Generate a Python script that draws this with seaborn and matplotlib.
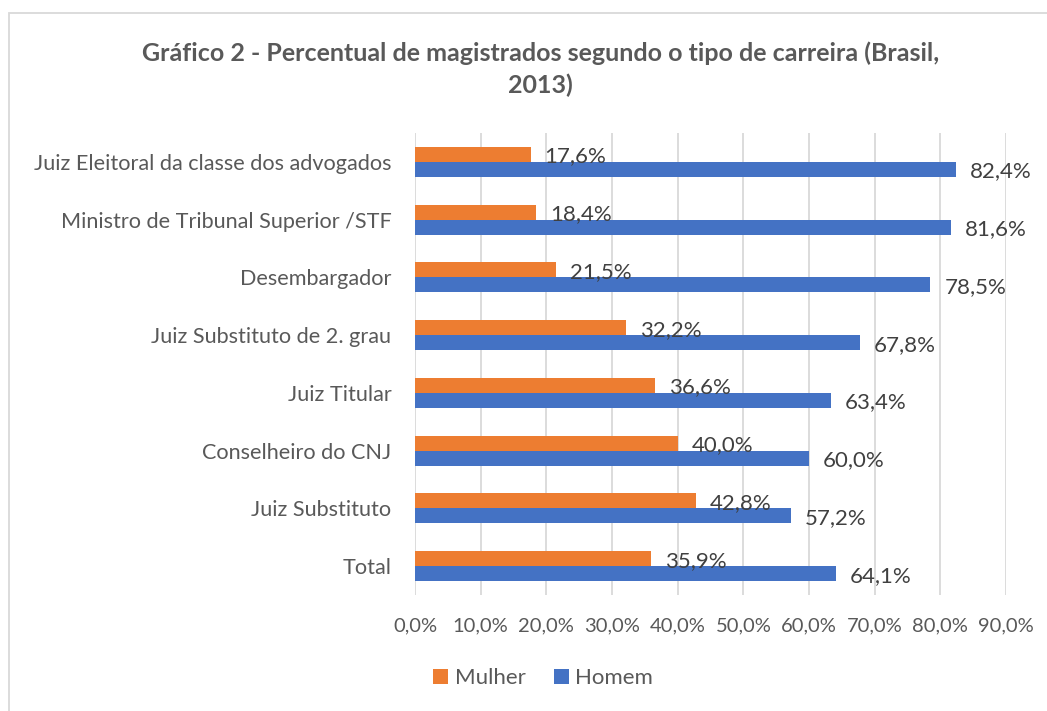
import matplotlib
matplotlib.use("Agg")
import matplotlib.pyplot as plt
import seaborn as sns
import pandas as pd
from matplotlib.patches import Rectangle, Patch

categories = [
    "Juiz Eleitoral da classe dos advogados",
    "Ministro de Tribunal Superior /STF",
    "Desembargador",
    "Juiz Substituto de 2. grau",
    "Juiz Titular",
    "Conselheiro do CNJ",
    "Juiz Substituto",
    "Total",
]
mulher = [17.6, 18.4, 21.5, 32.2, 36.6, 40.0, 42.8, 35.9]
homem = [82.4, 81.6, 78.5, 67.8, 63.4, 60.0, 57.2, 64.1]
series = ["Mulher", "Homem"]
xticks = [0, 10, 20, 30, 40, 50, 60, 70, 80, 90]
title = "Gráfico 2 - Percentual de magistrados segundo o tipo de carreira (Brasil,\n2013)"

colors = {"Mulher": "#ED7D31", "Homem": "#4472C4"}

df = pd.DataFrame({
    "cat": categories * 2,
    "serie": ["Mulher"] * len(categories) + ["Homem"] * len(categories),
    "valor": mulher + homem,
})

sns.set_theme(style="white")
plt.rcParams["font.family"] = ["Lato", "DejaVu Sans"]

W, H = 1047, 711
fig = plt.figure(figsize=(W / 100, H / 100), dpi=100)
fig.patch.set_facecolor("white")

# chart-area border
fig.patches.append(Rectangle((9 / W, -0.1), 1.2, 1.1 - 13 / H, transform=fig.transFigure,
                             fill=False, edgecolor="#d9d9d9", linewidth=1.3, zorder=0))

ax = fig.add_axes([415 / W, 1 - 595 / H, (1006 - 415) / W, (595 - 133) / H])
sns.barplot(data=df, y="cat", x="valor", hue="serie", order=categories, hue_order=series,
            palette=colors, orient="h", width=0.52, dodge=True, saturation=1,
            edgecolor="none", legend=False, ax=ax)

ax.set_xlim(0, 90)
ax.set_xticks(xticks)
ax.set_xticklabels([f"{v:.1f}%".replace(".", ",") for v in xticks])
ax.set_xlabel("")
ax.set_ylabel("")
ax.grid(axis="x", color="#d9d9d9", linewidth=1.3)
ax.set_axisbelow(True)
for s in ax.spines.values():
    s.set_visible(False)
ax.tick_params(axis="both", length=0, labelcolor="#595959")
ax.tick_params(axis="y", pad=17, labelsize=15.6)
ax.tick_params(axis="x", pad=16, labelsize=14.5)

for cont in ax.containers:
    for p in cont:
        w = p.get_width()
        yc = p.get_y() + p.get_height() / 2
        ax.annotate(f"{w:.1f}%".replace(".", ","), (w, yc), xytext=(10, -1.5),
                    textcoords="offset points", ha="left", va="center",
                    fontsize=16, color="#404040")

fig.text(0.516, 1 - 69 / H, title, ha="center", va="center", fontsize=18,
         fontweight="bold", color="#595959", linespacing=1.42)

handles = [Patch(facecolor=colors[s], edgecolor="none") for s in series]
fig.legend(handles, series, loc="center", bbox_to_anchor=(0.519, 1 - 678 / H), ncol=2,
           frameon=False, fontsize=16, labelcolor="#595959", handlelength=0.65,
           handleheight=0.65, handletextpad=0.3, columnspacing=1.3)

fig.savefig("out.png", dpi=100, facecolor="white")
